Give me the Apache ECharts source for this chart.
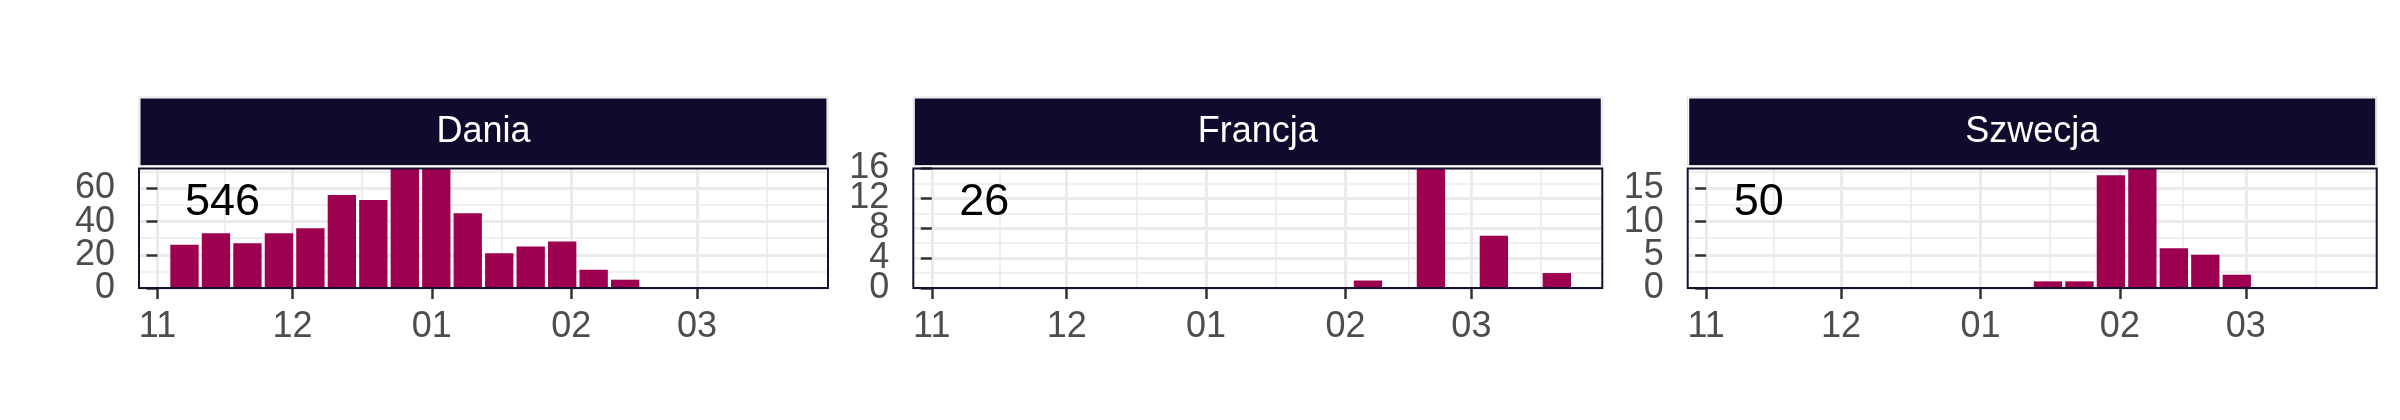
<!DOCTYPE html>
<html><head><meta charset="utf-8">
<script src="https://cdn.jsdelivr.net/npm/echarts@6/dist/echarts.min.js"></script>
<style>html,body{margin:0;padding:0;background:#fff}#c{width:2400px;height:420px}</style>
</head><body><div id="c"></div>
<script>
// ---- data ----
const panels = ['Dania', 'Francja', 'Szwecja'];
const totals = ['546', '26', '50'];
// weekly bins (bin centre dates)
const weeks = ['2018-11-07','2018-11-14','2018-11-21','2018-11-28','2018-12-05','2018-12-12','2018-12-19','2018-12-26',
               '2019-01-02','2019-01-09','2019-01-16','2019-01-23','2019-01-30','2019-02-06','2019-02-13','2019-02-20',
               '2019-02-27','2019-03-06','2019-03-13','2019-03-20'];
const dania   = [26, 33, 27, 33, 36, 56, 53, 72, 72, 45, 21, 25, 28, 11, 5, 0, 0, 0, 0, 0];
const francja = [0, 0, 0, 0, 0, 0, 0, 0, 0, 0, 0, 0, 0, 1, 0, 16, 0, 7, 0, 2];
const szwecja = [0, 0, 0, 0, 0, 0, 0, 0, 0, 0, 1, 1, 17, 18, 6, 5, 2, 0, 0, 0];
const monthStarts = ['2018-11-01','2018-12-01','2019-01-01','2019-02-01','2019-03-01'];
const monthLabels = ['11', '12', '01', '02', '03'];
const monthGrid = ['2018-10-01','2018-11-01','2018-12-01','2019-01-01','2019-02-01','2019-03-01','2019-04-01'];
const yTicks = [[0, 20, 40, 60], [0, 4, 8, 12, 16], [0, 5, 10, 15]];
const yMinor = [[10, 30, 50, 70], [2, 6, 10, 14], [2.5, 7.5, 12.5, 17.5]];
const yMax = [72, 16, 18];

// ---- helpers ----
const ORIGIN = Date.parse('2018-11-01');
const day = d => (Date.parse(d) - ORIGIN) / 864e5;
const binDays = 7, barFrac = 0.9;
const centers = weeks.map(day);
const lo = centers[0] - binDays * barFrac / 2, hi = centers[centers.length - 1] + binDays * barFrac / 2;
const pad = (hi - lo) * 0.05;
const xMin = lo - pad, xMax = hi + pad;
const monthDays = monthStarts.map(day);
const gridDays = monthGrid.map(day);
const minorDays = [];
for (let i = 0; i < gridDays.length - 1; i++) minorDays.push((gridDays[i] + gridDays[i + 1]) / 2);

const FONT = '"Liberation Sans", Arial, Helvetica, sans-serif';
const values = [dania, francja, szwecja];
const lefts = [139, 913.3, 1687.7];
const TOP = 168.5, W = 689, H = 119.5;
const barW = W * binDays * barFrac / (xMax - xMin);

const grids = [], xAxes = [], yAxes = [], series = [], graphics = [];
const majorLine = { show: true, lineStyle: { color: '#ebebeb', width: 3 } };
const minorLine = { show: true, lineStyle: { color: '#ebebeb', width: 1.6 } };
const tickStyle = { color: '#333333', width: 2.5 };

panels.forEach((name, i) => {
  const L = lefts[i];
  grids.push({ left: L, top: TOP, width: W, height: H, show: true, backgroundColor: '#ffffff',
               borderColor: '#16112f', borderWidth: 0, outerBoundsMode: 'none', containLabel: false });
  const xi = xAxes.length;
  xAxes.push({
    type: 'value', gridIndex: i, min: xMin, max: xMax,
    axisLine: { show: false },
    axisTick: { show: true, length: 11, customValues: monthDays, lineStyle: tickStyle },
    axisLabel: { show: true, customValues: monthDays, margin: 21, fontSize: 36, color: '#4d4d4d', fontFamily: FONT,
                 showMinLabel: true, showMaxLabel: true,
                 formatter: v => monthLabels[monthDays.indexOf(v)] },
    splitLine: majorLine
  });
  xAxes.push({
    type: 'value', gridIndex: i, min: xMin, max: xMax,
    axisLine: { show: false }, axisLabel: { show: false },
    axisTick: { show: false, customValues: minorDays },
    splitLine: minorLine
  });
  // major y ticks split into two interleaved axes so that the library does not drop close labels
  const yi = yAxes.length;
  [0, 1].forEach(par => {
    const vals = yTicks[i].filter((v, k) => k % 2 === par);
    yAxes.push({
      type: 'value', gridIndex: i, min: 0, max: yMax[i], position: 'left', offset: 0,
      axisLine: { show: false },
      axisTick: { show: true, length: 11, customValues: vals, lineStyle: tickStyle },
      axisLabel: { show: true, customValues: vals, margin: 24, fontSize: 36, color: '#4d4d4d', fontFamily: FONT,
                   showMinLabel: true, showMaxLabel: true },
      splitLine: majorLine
    });
  });
  yAxes.push({
    type: 'value', gridIndex: i, min: 0, max: yMax[i], position: 'left', offset: 0,
    axisLine: { show: false }, axisLabel: { show: false },
    axisTick: { show: false, customValues: yMinor[i] },
    splitLine: minorLine
  });
  series.push({
    type: 'bar', name: name, xAxisIndex: xi, yAxisIndex: yi,
    barWidth: barW, itemStyle: { color: '#9e0050' },
    data: centers.map((c, k) => [c, values[i][k]])
  });
  // panel border drawn on top of grid lines
  graphics.push({ type: 'rect', shape: { x: L, y: TOP, width: W, height: H }, z: 20, silent: true,
                  style: { fill: null, stroke: '#16112f', lineWidth: 2 } });
  // facet strip
  graphics.push({ type: 'rect', shape: { x: L, y: 97, width: W, height: 68.5 },
                  style: { fill: '#ffffff', stroke: '#dcdcdc', lineWidth: 1 }, z: 10 });
  graphics.push({ type: 'rect', shape: { x: L + 1.5, y: 98.5, width: W - 3, height: 66.5 },
                  style: { fill: '#0f0b2c' }, z: 11 });
  graphics.push({ type: 'text', x: L + W / 2, y: 132, z: 12,
                  style: { text: name, fill: '#ffffff', font: '36px ' + FONT, textAlign: 'center', textVerticalAlign: 'middle' } });
  // total count label
  graphics.push({ type: 'text', x: L + 46, y: 180, z: 12,
                  style: { text: totals[i], fill: '#000000', font: '45px ' + FONT, textAlign: 'left', textVerticalAlign: 'top' } });
});

const chart = echarts.init(document.getElementById('c'), null, { renderer: 'canvas' });
chart.setOption({
  backgroundColor: '#ffffff',
  animation: false,
  grid: grids, xAxis: xAxes, yAxis: yAxes, series: series,
  graphic: graphics
});
</script></body></html>
